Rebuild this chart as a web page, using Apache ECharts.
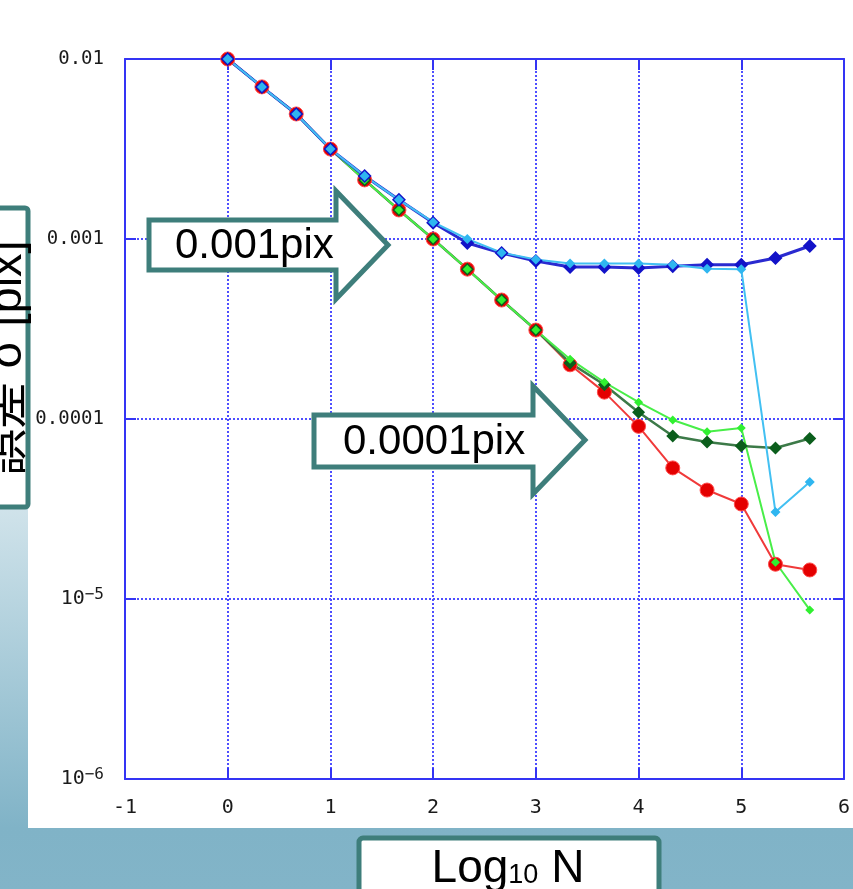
<!DOCTYPE html>
<html>
<head>
<meta charset="utf-8">
<script src="https://cdn.jsdelivr.net/npm/echarts@6/dist/echarts.min.js"></script>
<style>
  html, body { margin: 0; padding: 0; }
  #wrap {
    position: relative; width: 853px; height: 889px; overflow: hidden;
    background: linear-gradient(to bottom, #ffffff 0px, #ffffff 320px, #80b3c7 828px, #82b4c8 889px);
  }
  #panel { position: absolute; left: 28px; top: 0; width: 825px; height: 828px; background: #ffffff; }
  #chart { position: absolute; left: 0; top: 0; width: 853px; height: 889px; }
</style>
</head>
<body>
<div id="wrap"><div id="panel"></div><div id="chart"></div></div>
<script>
// log10 N
const logN = [0, 0.333, 0.667, 1, 1.333, 1.667, 2, 2.333, 2.667, 3, 3.333, 3.667, 4, 4.333, 4.667, 5, 5.333, 5.667];
// error sigma [pix]
const sigmaRed = [0.01, 0.007, 0.00495, 0.00316, 0.00213, 0.00145, 0.001, 0.00068, 0.000458, 0.000312, 0.0002, 0.000141, 0.000091, 0.0000535, 0.0000403, 0.0000337, 0.0000156, 0.0000145];
const sigmaDarkGreen = [0.01, 0.007, 0.00495, 0.00316, 0.00213, 0.00145, 0.001, 0.00068, 0.000458, 0.000312, 0.000205, 0.000155, 0.000109, 0.0000805, 0.0000745, 0.0000708, 0.000069, 0.000078];
const sigmaGreen = [0.01, 0.007, 0.00495, 0.00316, 0.00213, 0.00145, 0.001, 0.00068, 0.000458, 0.000312, 0.000215, 0.00016, 0.000124, 0.0000987, 0.000085, 0.000089, 0.000016, 0.0000087];
const sigmaBlue = [0.01, 0.007, 0.00495, 0.00316, 0.00224, 0.00165, 0.00123, 0.00095, 0.000835, 0.000755, 0.000699, 0.0007, 0.00069, 0.000706, 0.00072, 0.00072, 0.000784, 0.000914];
const sigmaCyan = [0.01, 0.007, 0.00495, 0.00316, 0.00224, 0.00165, 0.00124, 0.001, 0.00084, 0.00077, 0.00073, 0.00073, 0.00073, 0.00072, 0.000683, 0.00068, 0.0000304, 0.0000447];

const xTickLabels = ['-1', '0', '1', '2', '3', '4', '5', '6'];
const yTickLabels = ['{b|10}{s|\u22126}', '{b|10}{s|\u22125}', '0.0001', '0.001', '0.01']; // 1e-6 .. 1e-2

const yAxisTitle = '誤差 σ [pix]';
const xAxisTitle = ['Log', '10', ' N'];
const note1 = '0.001pix';
const note2 = '0.0001pix';

const AXIS = '#3434f4';
const GRIDC = '#4e4eff';
const TEAL = '#3e7e7b';
const tickFont = '"DejaVu Sans Mono", monospace';
const bigFont = '"Liberation Sans", Arial, "Noto Sans CJK JP", sans-serif';

function pairs(ys) { return logN.map((x, i) => [x, ys[i]]); }

const chart = echarts.init(document.getElementById('chart'), null, { renderer: 'canvas' });

const baseAxis = {
  axisLine: { show: true, onZero: false, lineStyle: { color: AXIS, width: 2 } },
  axisTick: { show: true, inside: true, length: 11, lineStyle: { color: AXIS, width: 2 } },
  minorTick: { show: false },
};

function mkLine(name, ys, symbol, size, color, lineColor, lw, border) {
  return {
    name, type: 'line', data: pairs(ys), symbol, symbolSize: size,
    lineStyle: { color: lineColor, width: lw },
    itemStyle: { color, borderColor: border || color, borderWidth: border ? 1 : 0 },
    showSymbol: true, animation: false, z: 3
  };
}

chart.setOption({
  backgroundColor: 'transparent',
  animation: false,
  grid: { left: 125, right: 7, top: 59, bottom: 110, show: false },
  xAxis: [
    Object.assign({}, baseAxis, {
      type: 'value', min: -1, max: 6, interval: 1, position: 'bottom',
      axisLabel: { margin: 19, color: '#1a1a1a', fontFamily: tickFont, fontSize: 20,
        formatter: v => xTickLabels[Math.round(v) + 1] },
      splitLine: { show: true, lineStyle: { color: GRIDC, width: 2, type: [2, 2] } }
    }),
    Object.assign({}, baseAxis, {
      type: 'value', min: -1, max: 6, interval: 1, position: 'top',
      axisLabel: { show: false }, splitLine: { show: false }
    })
  ],
  yAxis: [
    Object.assign({}, baseAxis, {
      type: 'log', logBase: 10, min: 1e-6, max: 0.01, position: 'left',
      axisLabel: {
        margin: 21, color: '#1a1a1a', fontFamily: tickFont, fontSize: 19,
        formatter: v => yTickLabels[Math.round(Math.log10(v)) + 6],
        rich: {
          b: { fontFamily: tickFont, fontSize: 20, color: '#1a1a1a' },
          s: { fontFamily: tickFont, fontSize: 16, color: '#1a1a1a', padding: [0, 0, 9, 0] }
        }
      },
      splitLine: { show: true, lineStyle: { color: GRIDC, width: 2, type: [2, 2] } }
    }),
    Object.assign({}, baseAxis, {
      type: 'log', logBase: 10, min: 1e-6, max: 0.01, position: 'right',
      axisLabel: { show: false }, splitLine: { show: false }
    })
  ],
  series: [
    mkLine('s1', sigmaRed, 'circle', 14, '#e40000', '#f03a3a', 2, '#ff4a4a'),
    mkLine('s2', sigmaDarkGreen, 'diamond', 13, '#0b5e1c', '#3c7a48', 2.5),
    mkLine('s3', sigmaGreen, 'diamond', 9, '#30f030', '#48ee48', 2),
    mkLine('s4', sigmaBlue, 'diamond', 14, '#1212c8', '#2a2ad0', 3),
    mkLine('s5', sigmaCyan, 'diamond', 10, '#2fb6f0', '#42c0f2', 2)
  ],
  graphic: { elements: [
    { type: 'rect', z: 100, shape: { x: -20, y: 208, width: 48, height: 299, r: 3 },
      style: { fill: '#ffffff', stroke: TEAL, lineWidth: 5 } },
    { type: 'text', z: 101, x: 8, y: 358, rotation: Math.PI / 2,
      style: { text: yAxisTitle, font: '47px ' + bigFont, fill: '#000', align: 'center', verticalAlign: 'middle' } },
    { type: 'rect', z: 100, shape: { x: 359, y: 838, width: 300, height: 90, r: 4 },
      style: { fill: '#ffffff', stroke: TEAL, lineWidth: 5 } },
    { type: 'text', z: 101, x: 508, y: 869,
      style: {
        text: '{a|' + xAxisTitle[0] + '}{s|' + xAxisTitle[1] + '}{a|' + xAxisTitle[2] + '}',
        align: 'center', verticalAlign: 'middle',
        rich: {
          a: { fontFamily: bigFont, fontSize: 46, fill: '#000', color: '#000' },
          s: { fontFamily: bigFont, fontSize: 27, fill: '#000', color: '#000', padding: [14, 0, 0, 0] }
        }
      } },
    { type: 'polygon', z: 100,
      shape: { points: [[149, 220], [336, 220], [336, 191], [388, 245], [336, 299], [336, 270], [149, 270]] },
      style: { fill: '#ffffff', stroke: TEAL, lineWidth: 5, lineJoin: 'miter' } },
    { type: 'text', z: 101, x: 175, y: 246,
      style: { text: note1, font: '42px ' + bigFont, fill: '#000', align: 'left', verticalAlign: 'middle' } },
    { type: 'polygon', z: 100,
      shape: { points: [[314, 415], [533, 415], [533, 386], [585, 440], [533, 494], [533, 467], [314, 467]] },
      style: { fill: '#ffffff', stroke: TEAL, lineWidth: 5, lineJoin: 'miter' } },
    { type: 'text', z: 101, x: 343, y: 442,
      style: { text: note2, font: '42px ' + bigFont, fill: '#000', align: 'left', verticalAlign: 'middle' } }
  ] }
});
</script>
</body>
</html>
